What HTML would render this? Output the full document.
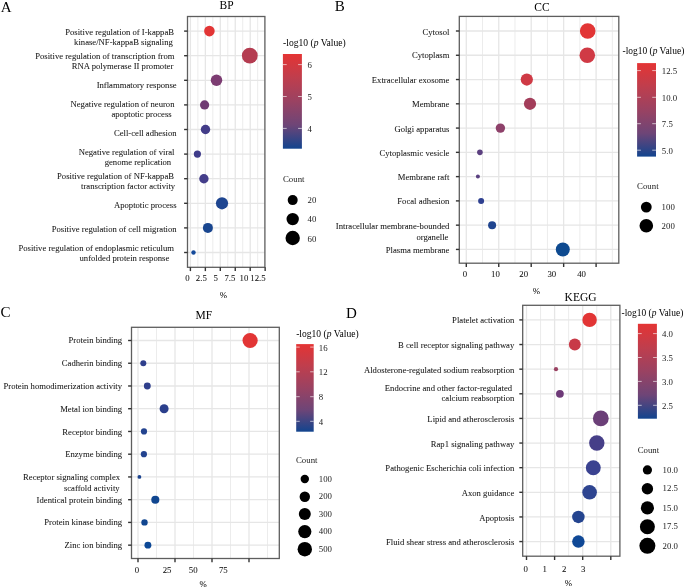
<!DOCTYPE html><html><head><meta charset="utf-8"><style>html,body{margin:0;padding:0;background:#fff;width:685px;height:588px;overflow:hidden}svg{display:block;filter:blur(0.3px)}</style></head><body><svg width="685" height="588" viewBox="0 0 685 588">
<defs><linearGradient id="cb" x1="0" y1="0" x2="0" y2="1"><stop offset="0" stop-color="#e43434"/><stop offset="0.25" stop-color="#bf3e4d"/><stop offset="0.5" stop-color="#9a4262"/><stop offset="0.75" stop-color="#6e4577"/><stop offset="1" stop-color="#12448e"/></linearGradient></defs>
<rect x="0" y="0" width="685" height="588" fill="#ffffff"/>
<line x1="197.88" y1="16.50" x2="197.88" y2="267.30" stroke="#ececec" stroke-width="1.0"/>
<line x1="212.83" y1="16.50" x2="212.83" y2="267.30" stroke="#ececec" stroke-width="1.0"/>
<line x1="227.78" y1="16.50" x2="227.78" y2="267.30" stroke="#ececec" stroke-width="1.0"/>
<line x1="242.73" y1="16.50" x2="242.73" y2="267.30" stroke="#ececec" stroke-width="1.0"/>
<line x1="257.68" y1="16.50" x2="257.68" y2="267.30" stroke="#ececec" stroke-width="1.0"/>
<line x1="190.40" y1="16.50" x2="190.40" y2="267.30" stroke="#e6e6e6" stroke-width="1.3"/>
<line x1="205.35" y1="16.50" x2="205.35" y2="267.30" stroke="#e6e6e6" stroke-width="1.3"/>
<line x1="220.30" y1="16.50" x2="220.30" y2="267.30" stroke="#e6e6e6" stroke-width="1.3"/>
<line x1="235.25" y1="16.50" x2="235.25" y2="267.30" stroke="#e6e6e6" stroke-width="1.3"/>
<line x1="250.20" y1="16.50" x2="250.20" y2="267.30" stroke="#e6e6e6" stroke-width="1.3"/>
<line x1="187.50" y1="31.10" x2="264.90" y2="31.10" stroke="#e6e6e6" stroke-width="1.3"/>
<line x1="187.50" y1="55.70" x2="264.90" y2="55.70" stroke="#e6e6e6" stroke-width="1.3"/>
<line x1="187.50" y1="80.30" x2="264.90" y2="80.30" stroke="#e6e6e6" stroke-width="1.3"/>
<line x1="187.50" y1="104.90" x2="264.90" y2="104.90" stroke="#e6e6e6" stroke-width="1.3"/>
<line x1="187.50" y1="129.50" x2="264.90" y2="129.50" stroke="#e6e6e6" stroke-width="1.3"/>
<line x1="187.50" y1="154.10" x2="264.90" y2="154.10" stroke="#e6e6e6" stroke-width="1.3"/>
<line x1="187.50" y1="178.70" x2="264.90" y2="178.70" stroke="#e6e6e6" stroke-width="1.3"/>
<line x1="187.50" y1="203.30" x2="264.90" y2="203.30" stroke="#e6e6e6" stroke-width="1.3"/>
<line x1="187.50" y1="227.90" x2="264.90" y2="227.90" stroke="#e6e6e6" stroke-width="1.3"/>
<line x1="187.50" y1="252.50" x2="264.90" y2="252.50" stroke="#e6e6e6" stroke-width="1.3"/>
<circle cx="209.40" cy="31.10" r="5.30" fill="#e23535"/>
<circle cx="249.80" cy="55.70" r="7.90" fill="#b43c50"/>
<circle cx="216.50" cy="80.30" r="5.75" fill="#7c3c72"/>
<circle cx="204.60" cy="104.90" r="4.60" fill="#703c74"/>
<circle cx="205.50" cy="129.50" r="4.70" fill="#433c88"/>
<circle cx="197.40" cy="154.10" r="3.60" fill="#3f3c8a"/>
<circle cx="203.90" cy="178.70" r="4.70" fill="#443e8a"/>
<circle cx="222.00" cy="203.30" r="6.10" fill="#1e4590"/>
<circle cx="207.90" cy="227.90" r="5.00" fill="#19468f"/>
<circle cx="193.50" cy="252.50" r="2.20" fill="#154a9a"/>
<rect x="187.50" y="16.50" width="77.40" height="250.80" fill="none" stroke="#5e5e5e" stroke-width="1.3"/>
<line x1="184.10" y1="31.10" x2="187.50" y2="31.10" stroke="#333333" stroke-width="1.4"/>
<line x1="184.10" y1="55.70" x2="187.50" y2="55.70" stroke="#333333" stroke-width="1.4"/>
<line x1="184.10" y1="80.30" x2="187.50" y2="80.30" stroke="#333333" stroke-width="1.4"/>
<line x1="184.10" y1="104.90" x2="187.50" y2="104.90" stroke="#333333" stroke-width="1.4"/>
<line x1="184.10" y1="129.50" x2="187.50" y2="129.50" stroke="#333333" stroke-width="1.4"/>
<line x1="184.10" y1="154.10" x2="187.50" y2="154.10" stroke="#333333" stroke-width="1.4"/>
<line x1="184.10" y1="178.70" x2="187.50" y2="178.70" stroke="#333333" stroke-width="1.4"/>
<line x1="184.10" y1="203.30" x2="187.50" y2="203.30" stroke="#333333" stroke-width="1.4"/>
<line x1="184.10" y1="227.90" x2="187.50" y2="227.90" stroke="#333333" stroke-width="1.4"/>
<line x1="184.10" y1="252.50" x2="187.50" y2="252.50" stroke="#333333" stroke-width="1.4"/>
<line x1="190.40" y1="267.30" x2="190.40" y2="271.10" stroke="#333333" stroke-width="1.4"/>
<line x1="205.35" y1="267.30" x2="205.35" y2="271.10" stroke="#333333" stroke-width="1.4"/>
<line x1="220.30" y1="267.30" x2="220.30" y2="271.10" stroke="#333333" stroke-width="1.4"/>
<line x1="235.25" y1="267.30" x2="235.25" y2="271.10" stroke="#333333" stroke-width="1.4"/>
<line x1="250.20" y1="267.30" x2="250.20" y2="271.10" stroke="#333333" stroke-width="1.4"/>
<line x1="265.15" y1="267.30" x2="265.15" y2="271.10" stroke="#333333" stroke-width="1.4"/>
<line x1="482.53" y1="16.40" x2="482.53" y2="263.20" stroke="#ececec" stroke-width="1.0"/>
<line x1="514.98" y1="16.40" x2="514.98" y2="263.20" stroke="#ececec" stroke-width="1.0"/>
<line x1="547.42" y1="16.40" x2="547.42" y2="263.20" stroke="#ececec" stroke-width="1.0"/>
<line x1="579.88" y1="16.40" x2="579.88" y2="263.20" stroke="#ececec" stroke-width="1.0"/>
<line x1="612.33" y1="16.40" x2="612.33" y2="263.20" stroke="#ececec" stroke-width="1.0"/>
<line x1="466.30" y1="16.40" x2="466.30" y2="263.20" stroke="#e6e6e6" stroke-width="1.3"/>
<line x1="498.75" y1="16.40" x2="498.75" y2="263.20" stroke="#e6e6e6" stroke-width="1.3"/>
<line x1="531.20" y1="16.40" x2="531.20" y2="263.20" stroke="#e6e6e6" stroke-width="1.3"/>
<line x1="563.65" y1="16.40" x2="563.65" y2="263.20" stroke="#e6e6e6" stroke-width="1.3"/>
<line x1="596.10" y1="16.40" x2="596.10" y2="263.20" stroke="#e6e6e6" stroke-width="1.3"/>
<line x1="459.30" y1="31.00" x2="618.80" y2="31.00" stroke="#e6e6e6" stroke-width="1.3"/>
<line x1="459.30" y1="55.27" x2="618.80" y2="55.27" stroke="#e6e6e6" stroke-width="1.3"/>
<line x1="459.30" y1="79.54" x2="618.80" y2="79.54" stroke="#e6e6e6" stroke-width="1.3"/>
<line x1="459.30" y1="103.81" x2="618.80" y2="103.81" stroke="#e6e6e6" stroke-width="1.3"/>
<line x1="459.30" y1="128.08" x2="618.80" y2="128.08" stroke="#e6e6e6" stroke-width="1.3"/>
<line x1="459.30" y1="152.35" x2="618.80" y2="152.35" stroke="#e6e6e6" stroke-width="1.3"/>
<line x1="459.30" y1="176.62" x2="618.80" y2="176.62" stroke="#e6e6e6" stroke-width="1.3"/>
<line x1="459.30" y1="200.89" x2="618.80" y2="200.89" stroke="#e6e6e6" stroke-width="1.3"/>
<line x1="459.30" y1="225.16" x2="618.80" y2="225.16" stroke="#e6e6e6" stroke-width="1.3"/>
<line x1="459.30" y1="249.43" x2="618.80" y2="249.43" stroke="#e6e6e6" stroke-width="1.3"/>
<circle cx="587.70" cy="31.00" r="7.80" fill="#e23535"/>
<circle cx="587.30" cy="55.27" r="7.80" fill="#d03a45"/>
<circle cx="526.80" cy="79.54" r="6.10" fill="#cf3a45"/>
<circle cx="530.00" cy="103.81" r="6.10" fill="#a33d5a"/>
<circle cx="500.40" cy="128.08" r="4.70" fill="#8e416a"/>
<circle cx="479.90" cy="152.35" r="2.80" fill="#5c4080"/>
<circle cx="477.90" cy="176.62" r="2.00" fill="#5a4080"/>
<circle cx="481.10" cy="200.89" r="3.00" fill="#2e4090"/>
<circle cx="492.10" cy="225.16" r="4.00" fill="#20458f"/>
<circle cx="562.80" cy="249.43" r="7.00" fill="#0e4a90"/>
<rect x="459.30" y="16.40" width="159.50" height="246.80" fill="none" stroke="#5e5e5e" stroke-width="1.3"/>
<line x1="455.90" y1="31.00" x2="459.30" y2="31.00" stroke="#333333" stroke-width="1.4"/>
<line x1="455.90" y1="55.27" x2="459.30" y2="55.27" stroke="#333333" stroke-width="1.4"/>
<line x1="455.90" y1="79.54" x2="459.30" y2="79.54" stroke="#333333" stroke-width="1.4"/>
<line x1="455.90" y1="103.81" x2="459.30" y2="103.81" stroke="#333333" stroke-width="1.4"/>
<line x1="455.90" y1="128.08" x2="459.30" y2="128.08" stroke="#333333" stroke-width="1.4"/>
<line x1="455.90" y1="152.35" x2="459.30" y2="152.35" stroke="#333333" stroke-width="1.4"/>
<line x1="455.90" y1="176.62" x2="459.30" y2="176.62" stroke="#333333" stroke-width="1.4"/>
<line x1="455.90" y1="200.89" x2="459.30" y2="200.89" stroke="#333333" stroke-width="1.4"/>
<line x1="455.90" y1="225.16" x2="459.30" y2="225.16" stroke="#333333" stroke-width="1.4"/>
<line x1="455.90" y1="249.43" x2="459.30" y2="249.43" stroke="#333333" stroke-width="1.4"/>
<line x1="466.30" y1="263.20" x2="466.30" y2="267.00" stroke="#333333" stroke-width="1.4"/>
<line x1="498.75" y1="263.20" x2="498.75" y2="267.00" stroke="#333333" stroke-width="1.4"/>
<line x1="531.20" y1="263.20" x2="531.20" y2="267.00" stroke="#333333" stroke-width="1.4"/>
<line x1="563.65" y1="263.20" x2="563.65" y2="267.00" stroke="#333333" stroke-width="1.4"/>
<line x1="596.10" y1="263.20" x2="596.10" y2="267.00" stroke="#333333" stroke-width="1.4"/>
<line x1="156.50" y1="327.30" x2="156.50" y2="558.50" stroke="#ececec" stroke-width="1.0"/>
<line x1="193.50" y1="327.30" x2="193.50" y2="558.50" stroke="#ececec" stroke-width="1.0"/>
<line x1="230.50" y1="327.30" x2="230.50" y2="558.50" stroke="#ececec" stroke-width="1.0"/>
<line x1="267.50" y1="327.30" x2="267.50" y2="558.50" stroke="#ececec" stroke-width="1.0"/>
<line x1="138.00" y1="327.30" x2="138.00" y2="558.50" stroke="#e6e6e6" stroke-width="1.3"/>
<line x1="175.00" y1="327.30" x2="175.00" y2="558.50" stroke="#e6e6e6" stroke-width="1.3"/>
<line x1="212.00" y1="327.30" x2="212.00" y2="558.50" stroke="#e6e6e6" stroke-width="1.3"/>
<line x1="249.00" y1="327.30" x2="249.00" y2="558.50" stroke="#e6e6e6" stroke-width="1.3"/>
<line x1="131.50" y1="340.50" x2="279.30" y2="340.50" stroke="#e6e6e6" stroke-width="1.3"/>
<line x1="131.50" y1="363.24" x2="279.30" y2="363.24" stroke="#e6e6e6" stroke-width="1.3"/>
<line x1="131.50" y1="385.98" x2="279.30" y2="385.98" stroke="#e6e6e6" stroke-width="1.3"/>
<line x1="131.50" y1="408.72" x2="279.30" y2="408.72" stroke="#e6e6e6" stroke-width="1.3"/>
<line x1="131.50" y1="431.46" x2="279.30" y2="431.46" stroke="#e6e6e6" stroke-width="1.3"/>
<line x1="131.50" y1="454.20" x2="279.30" y2="454.20" stroke="#e6e6e6" stroke-width="1.3"/>
<line x1="131.50" y1="476.94" x2="279.30" y2="476.94" stroke="#e6e6e6" stroke-width="1.3"/>
<line x1="131.50" y1="499.68" x2="279.30" y2="499.68" stroke="#e6e6e6" stroke-width="1.3"/>
<line x1="131.50" y1="522.42" x2="279.30" y2="522.42" stroke="#e6e6e6" stroke-width="1.3"/>
<line x1="131.50" y1="545.16" x2="279.30" y2="545.16" stroke="#e6e6e6" stroke-width="1.3"/>
<circle cx="250.10" cy="340.50" r="7.60" fill="#e23535"/>
<circle cx="143.30" cy="363.24" r="3.00" fill="#2f3f8c"/>
<circle cx="147.30" cy="385.98" r="3.45" fill="#2f3f8c"/>
<circle cx="164.10" cy="408.72" r="4.50" fill="#2b3f8c"/>
<circle cx="144.00" cy="431.46" r="3.10" fill="#23438f"/>
<circle cx="143.90" cy="454.20" r="3.10" fill="#23438f"/>
<circle cx="139.40" cy="476.94" r="1.90" fill="#1c448f"/>
<circle cx="155.30" cy="499.68" r="4.05" fill="#104690"/>
<circle cx="144.50" cy="522.42" r="3.20" fill="#114690"/>
<circle cx="147.90" cy="545.16" r="3.45" fill="#0d4896"/>
<rect x="131.50" y="327.30" width="147.80" height="231.20" fill="none" stroke="#5e5e5e" stroke-width="1.3"/>
<line x1="128.10" y1="340.50" x2="131.50" y2="340.50" stroke="#333333" stroke-width="1.4"/>
<line x1="128.10" y1="363.24" x2="131.50" y2="363.24" stroke="#333333" stroke-width="1.4"/>
<line x1="128.10" y1="385.98" x2="131.50" y2="385.98" stroke="#333333" stroke-width="1.4"/>
<line x1="128.10" y1="408.72" x2="131.50" y2="408.72" stroke="#333333" stroke-width="1.4"/>
<line x1="128.10" y1="431.46" x2="131.50" y2="431.46" stroke="#333333" stroke-width="1.4"/>
<line x1="128.10" y1="454.20" x2="131.50" y2="454.20" stroke="#333333" stroke-width="1.4"/>
<line x1="128.10" y1="476.94" x2="131.50" y2="476.94" stroke="#333333" stroke-width="1.4"/>
<line x1="128.10" y1="499.68" x2="131.50" y2="499.68" stroke="#333333" stroke-width="1.4"/>
<line x1="128.10" y1="522.42" x2="131.50" y2="522.42" stroke="#333333" stroke-width="1.4"/>
<line x1="128.10" y1="545.16" x2="131.50" y2="545.16" stroke="#333333" stroke-width="1.4"/>
<line x1="138.00" y1="558.50" x2="138.00" y2="562.30" stroke="#333333" stroke-width="1.4"/>
<line x1="175.00" y1="558.50" x2="175.00" y2="562.30" stroke="#333333" stroke-width="1.4"/>
<line x1="212.00" y1="558.50" x2="212.00" y2="562.30" stroke="#333333" stroke-width="1.4"/>
<line x1="249.00" y1="558.50" x2="249.00" y2="562.30" stroke="#333333" stroke-width="1.4"/>
<line x1="540.55" y1="305.30" x2="540.55" y2="556.20" stroke="#ececec" stroke-width="1.0"/>
<line x1="568.65" y1="305.30" x2="568.65" y2="556.20" stroke="#ececec" stroke-width="1.0"/>
<line x1="596.75" y1="305.30" x2="596.75" y2="556.20" stroke="#ececec" stroke-width="1.0"/>
<line x1="526.50" y1="305.30" x2="526.50" y2="556.20" stroke="#e6e6e6" stroke-width="1.3"/>
<line x1="554.60" y1="305.30" x2="554.60" y2="556.20" stroke="#e6e6e6" stroke-width="1.3"/>
<line x1="582.70" y1="305.30" x2="582.70" y2="556.20" stroke="#e6e6e6" stroke-width="1.3"/>
<line x1="610.80" y1="305.30" x2="610.80" y2="556.20" stroke="#e6e6e6" stroke-width="1.3"/>
<line x1="522.70" y1="319.90" x2="619.90" y2="319.90" stroke="#e6e6e6" stroke-width="1.3"/>
<line x1="522.70" y1="344.53" x2="619.90" y2="344.53" stroke="#e6e6e6" stroke-width="1.3"/>
<line x1="522.70" y1="369.16" x2="619.90" y2="369.16" stroke="#e6e6e6" stroke-width="1.3"/>
<line x1="522.70" y1="393.79" x2="619.90" y2="393.79" stroke="#e6e6e6" stroke-width="1.3"/>
<line x1="522.70" y1="418.42" x2="619.90" y2="418.42" stroke="#e6e6e6" stroke-width="1.3"/>
<line x1="522.70" y1="443.05" x2="619.90" y2="443.05" stroke="#e6e6e6" stroke-width="1.3"/>
<line x1="522.70" y1="467.68" x2="619.90" y2="467.68" stroke="#e6e6e6" stroke-width="1.3"/>
<line x1="522.70" y1="492.31" x2="619.90" y2="492.31" stroke="#e6e6e6" stroke-width="1.3"/>
<line x1="522.70" y1="516.94" x2="619.90" y2="516.94" stroke="#e6e6e6" stroke-width="1.3"/>
<line x1="522.70" y1="541.57" x2="619.90" y2="541.57" stroke="#e6e6e6" stroke-width="1.3"/>
<circle cx="589.60" cy="319.90" r="7.20" fill="#e23535"/>
<circle cx="574.80" cy="344.53" r="5.95" fill="#c83a48"/>
<circle cx="556.00" cy="369.16" r="2.10" fill="#9a4262"/>
<circle cx="559.90" cy="393.79" r="3.90" fill="#6e3a78"/>
<circle cx="600.80" cy="418.42" r="7.90" fill="#6b3f78"/>
<circle cx="596.80" cy="443.05" r="7.70" fill="#463f88"/>
<circle cx="593.30" cy="467.68" r="7.45" fill="#3a4290"/>
<circle cx="589.60" cy="492.31" r="7.30" fill="#2e4490"/>
<circle cx="578.40" cy="516.94" r="6.25" fill="#24448f"/>
<circle cx="578.40" cy="541.57" r="6.25" fill="#0f4896"/>
<rect x="522.70" y="305.30" width="97.20" height="250.90" fill="none" stroke="#5e5e5e" stroke-width="1.3"/>
<line x1="519.30" y1="319.90" x2="522.70" y2="319.90" stroke="#333333" stroke-width="1.4"/>
<line x1="519.30" y1="344.53" x2="522.70" y2="344.53" stroke="#333333" stroke-width="1.4"/>
<line x1="519.30" y1="369.16" x2="522.70" y2="369.16" stroke="#333333" stroke-width="1.4"/>
<line x1="519.30" y1="393.79" x2="522.70" y2="393.79" stroke="#333333" stroke-width="1.4"/>
<line x1="519.30" y1="418.42" x2="522.70" y2="418.42" stroke="#333333" stroke-width="1.4"/>
<line x1="519.30" y1="443.05" x2="522.70" y2="443.05" stroke="#333333" stroke-width="1.4"/>
<line x1="519.30" y1="467.68" x2="522.70" y2="467.68" stroke="#333333" stroke-width="1.4"/>
<line x1="519.30" y1="492.31" x2="522.70" y2="492.31" stroke="#333333" stroke-width="1.4"/>
<line x1="519.30" y1="516.94" x2="522.70" y2="516.94" stroke="#333333" stroke-width="1.4"/>
<line x1="519.30" y1="541.57" x2="522.70" y2="541.57" stroke="#333333" stroke-width="1.4"/>
<line x1="526.50" y1="556.20" x2="526.50" y2="560.00" stroke="#333333" stroke-width="1.4"/>
<line x1="554.60" y1="556.20" x2="554.60" y2="560.00" stroke="#333333" stroke-width="1.4"/>
<line x1="582.70" y1="556.20" x2="582.70" y2="560.00" stroke="#333333" stroke-width="1.4"/>
<line x1="610.80" y1="556.20" x2="610.80" y2="560.00" stroke="#333333" stroke-width="1.4"/>
<rect x="282.90" y="54.00" width="19.00" height="94.70" fill="url(#cb)"/>
<g stroke="#fff" stroke-opacity="0.7" stroke-width="0.9"><line x1="282.90" y1="64.60" x2="286.70" y2="64.60"/><line x1="298.10" y1="64.60" x2="301.90" y2="64.60"/></g>
<g stroke="#fff" stroke-opacity="0.7" stroke-width="0.9"><line x1="282.90" y1="96.50" x2="286.70" y2="96.50"/><line x1="298.10" y1="96.50" x2="301.90" y2="96.50"/></g>
<g stroke="#fff" stroke-opacity="0.7" stroke-width="0.9"><line x1="282.90" y1="128.40" x2="286.70" y2="128.40"/><line x1="298.10" y1="128.40" x2="301.90" y2="128.40"/></g>
<circle cx="292.70" cy="200.10" r="5.00" fill="#000"/>
<circle cx="292.70" cy="219.10" r="6.20" fill="#000"/>
<circle cx="292.70" cy="238.00" r="7.20" fill="#000"/>
<rect x="637.10" y="63.10" width="18.90" height="93.50" fill="url(#cb)"/>
<g stroke="#fff" stroke-opacity="0.7" stroke-width="0.9"><line x1="637.10" y1="70.60" x2="640.88" y2="70.60"/><line x1="652.22" y1="70.60" x2="656.00" y2="70.60"/></g>
<g stroke="#fff" stroke-opacity="0.7" stroke-width="0.9"><line x1="637.10" y1="97.30" x2="640.88" y2="97.30"/><line x1="652.22" y1="97.30" x2="656.00" y2="97.30"/></g>
<g stroke="#fff" stroke-opacity="0.7" stroke-width="0.9"><line x1="637.10" y1="123.70" x2="640.88" y2="123.70"/><line x1="652.22" y1="123.70" x2="656.00" y2="123.70"/></g>
<g stroke="#fff" stroke-opacity="0.7" stroke-width="0.9"><line x1="637.10" y1="150.20" x2="640.88" y2="150.20"/><line x1="652.22" y1="150.20" x2="656.00" y2="150.20"/></g>
<circle cx="646.30" cy="207.10" r="5.40" fill="#000"/>
<circle cx="646.30" cy="225.80" r="6.80" fill="#000"/>
<rect x="296.20" y="344.10" width="17.50" height="87.60" fill="url(#cb)"/>
<g stroke="#fff" stroke-opacity="0.7" stroke-width="0.9"><line x1="296.20" y1="347.10" x2="299.70" y2="347.10"/><line x1="310.20" y1="347.10" x2="313.70" y2="347.10"/></g>
<g stroke="#fff" stroke-opacity="0.7" stroke-width="0.9"><line x1="296.20" y1="371.80" x2="299.70" y2="371.80"/><line x1="310.20" y1="371.80" x2="313.70" y2="371.80"/></g>
<g stroke="#fff" stroke-opacity="0.7" stroke-width="0.9"><line x1="296.20" y1="396.70" x2="299.70" y2="396.70"/><line x1="310.20" y1="396.70" x2="313.70" y2="396.70"/></g>
<g stroke="#fff" stroke-opacity="0.7" stroke-width="0.9"><line x1="296.20" y1="421.30" x2="299.70" y2="421.30"/><line x1="310.20" y1="421.30" x2="313.70" y2="421.30"/></g>
<circle cx="304.80" cy="479.00" r="4.20" fill="#000"/>
<circle cx="304.80" cy="496.70" r="5.20" fill="#000"/>
<circle cx="304.80" cy="514.10" r="6.00" fill="#000"/>
<circle cx="304.80" cy="531.60" r="6.60" fill="#000"/>
<circle cx="304.80" cy="549.20" r="7.20" fill="#000"/>
<rect x="637.90" y="323.80" width="19.00" height="94.90" fill="url(#cb)"/>
<g stroke="#fff" stroke-opacity="0.7" stroke-width="0.9"><line x1="637.90" y1="333.60" x2="641.70" y2="333.60"/><line x1="653.10" y1="333.60" x2="656.90" y2="333.60"/></g>
<g stroke="#fff" stroke-opacity="0.7" stroke-width="0.9"><line x1="637.90" y1="357.50" x2="641.70" y2="357.50"/><line x1="653.10" y1="357.50" x2="656.90" y2="357.50"/></g>
<g stroke="#fff" stroke-opacity="0.7" stroke-width="0.9"><line x1="637.90" y1="381.40" x2="641.70" y2="381.40"/><line x1="653.10" y1="381.40" x2="656.90" y2="381.40"/></g>
<g stroke="#fff" stroke-opacity="0.7" stroke-width="0.9"><line x1="637.90" y1="405.30" x2="641.70" y2="405.30"/><line x1="653.10" y1="405.30" x2="656.90" y2="405.30"/></g>
<circle cx="647.40" cy="469.90" r="4.60" fill="#000"/>
<circle cx="647.40" cy="488.70" r="5.70" fill="#000"/>
<circle cx="647.40" cy="507.90" r="6.60" fill="#000"/>
<circle cx="647.40" cy="526.70" r="7.50" fill="#000"/>
<circle cx="647.40" cy="545.80" r="8.00" fill="#000"/>
<g font-family="Liberation Serif, serif" style="filter:grayscale(1)">
<text transform="translate(187.50 281.00) scale(1 1.05)" font-size="8.8" text-anchor="middle" fill="#141414" stroke="#141414" stroke-width="0.06">0</text>
<text transform="translate(201.30 281.00) scale(1 1.05)" font-size="8.8" text-anchor="middle" fill="#141414" stroke="#141414" stroke-width="0.06">2.5</text>
<text transform="translate(215.70 281.00) scale(1 1.05)" font-size="8.8" text-anchor="middle" fill="#141414" stroke="#141414" stroke-width="0.06">5</text>
<text transform="translate(229.90 281.00) scale(1 1.05)" font-size="8.8" text-anchor="middle" fill="#141414" stroke="#141414" stroke-width="0.06">7.5</text>
<text transform="translate(244.00 281.00) scale(1 1.05)" font-size="8.8" text-anchor="middle" fill="#141414" stroke="#141414" stroke-width="0.06">10</text>
<text transform="translate(258.00 281.00) scale(1 1.05)" font-size="8.8" text-anchor="middle" fill="#141414" stroke="#141414" stroke-width="0.06">12.5</text>
<text transform="translate(223.40 297.60) scale(1 1.05)" font-size="8.8" text-anchor="middle" fill="#141414" stroke="#141414" stroke-width="0.06">%</text>
<text x="226.60" y="9.10" font-size="11.5" text-anchor="middle" fill="#000">BP</text>
<text transform="translate(174.00 34.60) scale(1 1.045)" font-size="8.66" text-anchor="end" fill="#141414" stroke="#141414" stroke-width="0.05">Positive regulation of I-kappaB</text>
<text transform="translate(172.80 45.10) scale(1 1.045)" font-size="8.66" text-anchor="end" fill="#141414" stroke="#141414" stroke-width="0.05">kinase/NF-kappaB signaling</text>
<text transform="translate(174.50 58.90) scale(1 1.045)" font-size="8.66" text-anchor="end" fill="#141414" stroke="#141414" stroke-width="0.05">Positive regulation of transcription from</text>
<text transform="translate(173.30 68.70) scale(1 1.045)" font-size="8.66" text-anchor="end" fill="#141414" stroke="#141414" stroke-width="0.05">RNA polymerase II promoter</text>
<text transform="translate(176.60 87.70) scale(1 1.045)" font-size="8.66" text-anchor="end" fill="#141414" stroke="#141414" stroke-width="0.05">Inflammatory response</text>
<text transform="translate(174.50 106.80) scale(1 1.045)" font-size="8.66" text-anchor="end" fill="#141414" stroke="#141414" stroke-width="0.05">Negative regulation of neuron</text>
<text transform="translate(171.70 117.10) scale(1 1.045)" font-size="8.66" text-anchor="end" fill="#141414" stroke="#141414" stroke-width="0.05">apoptotic process</text>
<text transform="translate(176.60 135.80) scale(1 1.045)" font-size="8.66" text-anchor="end" fill="#141414" stroke="#141414" stroke-width="0.05">Cell-cell adhesion</text>
<text transform="translate(174.50 154.50) scale(1 1.045)" font-size="8.66" text-anchor="end" fill="#141414" stroke="#141414" stroke-width="0.05">Negative regulation of viral</text>
<text transform="translate(171.20 165.00) scale(1 1.045)" font-size="8.66" text-anchor="end" fill="#141414" stroke="#141414" stroke-width="0.05">genome replication</text>
<text transform="translate(174.00 178.50) scale(1 1.045)" font-size="8.66" text-anchor="end" fill="#141414" stroke="#141414" stroke-width="0.05">Positive regulation of NF-kappaB</text>
<text transform="translate(175.20 188.60) scale(1 1.045)" font-size="8.66" text-anchor="end" fill="#141414" stroke="#141414" stroke-width="0.05">transcription factor activity</text>
<text transform="translate(176.60 207.50) scale(1 1.045)" font-size="8.66" text-anchor="end" fill="#141414" stroke="#141414" stroke-width="0.05">Apoptotic process</text>
<text transform="translate(176.60 231.60) scale(1 1.045)" font-size="8.66" text-anchor="end" fill="#141414" stroke="#141414" stroke-width="0.05">Positive regulation of cell migration</text>
<text transform="translate(174.00 250.80) scale(1 1.045)" font-size="8.66" text-anchor="end" fill="#141414" stroke="#141414" stroke-width="0.05">Positive regulation of endoplasmic reticulum</text>
<text transform="translate(169.30 260.80) scale(1 1.045)" font-size="8.66" text-anchor="end" fill="#141414" stroke="#141414" stroke-width="0.05">unfolded protein response</text>
<text transform="translate(464.90 277.20) scale(1 1.05)" font-size="8.8" text-anchor="middle" fill="#141414" stroke="#141414" stroke-width="0.06">0</text>
<text transform="translate(495.40 277.20) scale(1 1.05)" font-size="8.8" text-anchor="middle" fill="#141414" stroke="#141414" stroke-width="0.06">10</text>
<text transform="translate(523.70 277.20) scale(1 1.05)" font-size="8.8" text-anchor="middle" fill="#141414" stroke="#141414" stroke-width="0.06">20</text>
<text transform="translate(551.80 277.20) scale(1 1.05)" font-size="8.8" text-anchor="middle" fill="#141414" stroke="#141414" stroke-width="0.06">30</text>
<text transform="translate(581.60 277.20) scale(1 1.05)" font-size="8.8" text-anchor="middle" fill="#141414" stroke="#141414" stroke-width="0.06">40</text>
<text transform="translate(536.50 294.30) scale(1 1.05)" font-size="8.8" text-anchor="middle" fill="#141414" stroke="#141414" stroke-width="0.06">%</text>
<text x="542.00" y="10.50" font-size="11.5" text-anchor="middle" fill="#000">CC</text>
<text transform="translate(449.40 34.50) scale(1 1.045)" font-size="8.66" text-anchor="end" fill="#141414" stroke="#141414" stroke-width="0.05">Cytosol</text>
<text transform="translate(449.40 58.40) scale(1 1.045)" font-size="8.66" text-anchor="end" fill="#141414" stroke="#141414" stroke-width="0.05">Cytoplasm</text>
<text transform="translate(449.40 82.90) scale(1 1.045)" font-size="8.66" text-anchor="end" fill="#141414" stroke="#141414" stroke-width="0.05">Extracellular exosome</text>
<text transform="translate(449.40 107.00) scale(1 1.045)" font-size="8.66" text-anchor="end" fill="#141414" stroke="#141414" stroke-width="0.05">Membrane</text>
<text transform="translate(449.40 131.60) scale(1 1.045)" font-size="8.66" text-anchor="end" fill="#141414" stroke="#141414" stroke-width="0.05">Golgi apparatus</text>
<text transform="translate(449.40 155.90) scale(1 1.045)" font-size="8.66" text-anchor="end" fill="#141414" stroke="#141414" stroke-width="0.05">Cytoplasmic vesicle</text>
<text transform="translate(449.40 179.80) scale(1 1.045)" font-size="8.66" text-anchor="end" fill="#141414" stroke="#141414" stroke-width="0.05">Membrane raft</text>
<text transform="translate(449.40 204.40) scale(1 1.045)" font-size="8.66" text-anchor="end" fill="#141414" stroke="#141414" stroke-width="0.05">Focal adhesion</text>
<text transform="translate(449.40 229.00) scale(1 1.045)" font-size="8.66" text-anchor="end" fill="#141414" stroke="#141414" stroke-width="0.05">Intracellular membrane-bounded</text>
<text transform="translate(448.40 239.60) scale(1 1.045)" font-size="8.66" text-anchor="end" fill="#141414" stroke="#141414" stroke-width="0.05">organelle</text>
<text transform="translate(449.40 253.10) scale(1 1.045)" font-size="8.66" text-anchor="end" fill="#141414" stroke="#141414" stroke-width="0.05">Plasma membrane</text>
<text transform="translate(137.00 573.30) scale(1 1.05)" font-size="8.8" text-anchor="middle" fill="#141414" stroke="#141414" stroke-width="0.06">0</text>
<text transform="translate(167.10 573.30) scale(1 1.05)" font-size="8.8" text-anchor="middle" fill="#141414" stroke="#141414" stroke-width="0.06">25</text>
<text transform="translate(193.20 573.30) scale(1 1.05)" font-size="8.8" text-anchor="middle" fill="#141414" stroke="#141414" stroke-width="0.06">50</text>
<text transform="translate(223.30 573.30) scale(1 1.05)" font-size="8.8" text-anchor="middle" fill="#141414" stroke="#141414" stroke-width="0.06">75</text>
<text transform="translate(203.20 587.00) scale(1 1.05)" font-size="8.8" text-anchor="middle" fill="#141414" stroke="#141414" stroke-width="0.06">%</text>
<text x="203.90" y="318.80" font-size="11.5" text-anchor="middle" fill="#000">MF</text>
<text transform="translate(122.10 343.40) scale(1 1.045)" font-size="8.66" text-anchor="end" fill="#141414" stroke="#141414" stroke-width="0.05">Protein binding</text>
<text transform="translate(122.10 366.30) scale(1 1.045)" font-size="8.66" text-anchor="end" fill="#141414" stroke="#141414" stroke-width="0.05">Cadherin binding</text>
<text transform="translate(122.10 389.00) scale(1 1.045)" font-size="8.66" text-anchor="end" fill="#141414" stroke="#141414" stroke-width="0.05">Protein homodimerization activity</text>
<text transform="translate(122.10 411.70) scale(1 1.045)" font-size="8.66" text-anchor="end" fill="#141414" stroke="#141414" stroke-width="0.05">Metal ion binding</text>
<text transform="translate(122.10 434.50) scale(1 1.045)" font-size="8.66" text-anchor="end" fill="#141414" stroke="#141414" stroke-width="0.05">Receptor binding</text>
<text transform="translate(122.10 457.40) scale(1 1.045)" font-size="8.66" text-anchor="end" fill="#141414" stroke="#141414" stroke-width="0.05">Enzyme binding</text>
<text transform="translate(120.10 480.10) scale(1 1.045)" font-size="8.66" text-anchor="end" fill="#141414" stroke="#141414" stroke-width="0.05">Receptor signaling complex</text>
<text transform="translate(119.70 490.50) scale(1 1.045)" font-size="8.66" text-anchor="end" fill="#141414" stroke="#141414" stroke-width="0.05">scaffold activity</text>
<text transform="translate(122.10 503.00) scale(1 1.045)" font-size="8.66" text-anchor="end" fill="#141414" stroke="#141414" stroke-width="0.05">Identical protein binding</text>
<text transform="translate(122.10 525.40) scale(1 1.045)" font-size="8.66" text-anchor="end" fill="#141414" stroke="#141414" stroke-width="0.05">Protein kinase binding</text>
<text transform="translate(122.10 548.10) scale(1 1.045)" font-size="8.66" text-anchor="end" fill="#141414" stroke="#141414" stroke-width="0.05">Zinc ion binding</text>
<text transform="translate(525.70 571.90) scale(1 1.05)" font-size="8.8" text-anchor="middle" fill="#141414" stroke="#141414" stroke-width="0.06">0</text>
<text transform="translate(544.60 571.90) scale(1 1.05)" font-size="8.8" text-anchor="middle" fill="#141414" stroke="#141414" stroke-width="0.06">1</text>
<text transform="translate(564.30 571.90) scale(1 1.05)" font-size="8.8" text-anchor="middle" fill="#141414" stroke="#141414" stroke-width="0.06">2</text>
<text transform="translate(583.30 571.90) scale(1 1.05)" font-size="8.8" text-anchor="middle" fill="#141414" stroke="#141414" stroke-width="0.06">3</text>
<text transform="translate(568.30 586.30) scale(1 1.05)" font-size="8.8" text-anchor="middle" fill="#141414" stroke="#141414" stroke-width="0.06">%</text>
<text x="580.60" y="300.70" font-size="11.5" text-anchor="middle" fill="#000">KEGG</text>
<text transform="translate(514.30 323.20) scale(1 1.045)" font-size="8.66" text-anchor="end" fill="#141414" stroke="#141414" stroke-width="0.05">Platelet activation</text>
<text transform="translate(514.30 348.10) scale(1 1.045)" font-size="8.66" text-anchor="end" fill="#141414" stroke="#141414" stroke-width="0.05">B cell receptor signaling pathway</text>
<text transform="translate(514.30 372.60) scale(1 1.045)" font-size="8.66" text-anchor="end" fill="#141414" stroke="#141414" stroke-width="0.05">Aldosterone-regulated sodium reabsorption</text>
<text transform="translate(512.10 390.80) scale(1 1.045)" font-size="8.66" text-anchor="end" fill="#141414" stroke="#141414" stroke-width="0.05">Endocrine and other factor-regulated</text>
<text transform="translate(514.30 401.30) scale(1 1.045)" font-size="8.66" text-anchor="end" fill="#141414" stroke="#141414" stroke-width="0.05">calcium reabsorption</text>
<text transform="translate(514.30 421.80) scale(1 1.045)" font-size="8.66" text-anchor="end" fill="#141414" stroke="#141414" stroke-width="0.05">Lipid and atherosclerosis</text>
<text transform="translate(514.30 446.50) scale(1 1.045)" font-size="8.66" text-anchor="end" fill="#141414" stroke="#141414" stroke-width="0.05">Rap1 signaling pathway</text>
<text transform="translate(514.30 471.00) scale(1 1.045)" font-size="8.66" text-anchor="end" fill="#141414" stroke="#141414" stroke-width="0.05">Pathogenic Escherichia coli infection</text>
<text transform="translate(514.30 495.60) scale(1 1.045)" font-size="8.66" text-anchor="end" fill="#141414" stroke="#141414" stroke-width="0.05">Axon guidance</text>
<text transform="translate(514.30 520.50) scale(1 1.045)" font-size="8.66" text-anchor="end" fill="#141414" stroke="#141414" stroke-width="0.05">Apoptosis</text>
<text transform="translate(514.30 544.70) scale(1 1.045)" font-size="8.66" text-anchor="end" fill="#141414" stroke="#141414" stroke-width="0.05">Fluid shear stress and atherosclerosis</text>
<text x="283.10" y="46.20" font-size="9.3" fill="#000" textLength="62.7" lengthAdjust="spacingAndGlyphs">-log10 (<tspan font-style="italic">p</tspan> Value)</text>
<text transform="translate(307.60 68.10) scale(1 1.05)" font-size="8.8" text-anchor="start" fill="#1a1a1a">6</text>
<text transform="translate(307.60 100.00) scale(1 1.05)" font-size="8.8" text-anchor="start" fill="#1a1a1a">5</text>
<text transform="translate(307.60 131.90) scale(1 1.05)" font-size="8.8" text-anchor="start" fill="#1a1a1a">4</text>
<text transform="translate(283.00 182.40) scale(1 1.05)" font-size="8.8" text-anchor="start" fill="#1a1a1a">Count</text>
<text transform="translate(307.60 202.90) scale(1 1.05)" font-size="8.8" text-anchor="start" fill="#1a1a1a">20</text>
<text transform="translate(307.60 222.40) scale(1 1.05)" font-size="8.8" text-anchor="start" fill="#1a1a1a">40</text>
<text transform="translate(307.60 241.70) scale(1 1.05)" font-size="8.8" text-anchor="start" fill="#1a1a1a">60</text>
<text x="622.50" y="54.30" font-size="9.3" fill="#000" textLength="61.8" lengthAdjust="spacingAndGlyphs">-log10 (<tspan font-style="italic">p</tspan> Value)</text>
<text transform="translate(661.80 74.10) scale(1 1.05)" font-size="8.8" text-anchor="start" fill="#1a1a1a">12.5</text>
<text transform="translate(661.80 100.80) scale(1 1.05)" font-size="8.8" text-anchor="start" fill="#1a1a1a">10.0</text>
<text transform="translate(661.80 127.20) scale(1 1.05)" font-size="8.8" text-anchor="start" fill="#1a1a1a">7.5</text>
<text transform="translate(661.80 153.70) scale(1 1.05)" font-size="8.8" text-anchor="start" fill="#1a1a1a">5.0</text>
<text transform="translate(637.10 189.10) scale(1 1.05)" font-size="8.8" text-anchor="start" fill="#1a1a1a">Count</text>
<text transform="translate(661.60 209.80) scale(1 1.05)" font-size="8.8" text-anchor="start" fill="#1a1a1a">100</text>
<text transform="translate(661.60 228.50) scale(1 1.05)" font-size="8.8" text-anchor="start" fill="#1a1a1a">200</text>
<text x="296.20" y="336.80" font-size="9.3" fill="#000" textLength="62.5" lengthAdjust="spacingAndGlyphs">-log10 (<tspan font-style="italic">p</tspan> Value)</text>
<text transform="translate(318.80 350.60) scale(1 1.05)" font-size="8.8" text-anchor="start" fill="#1a1a1a">16</text>
<text transform="translate(318.80 375.30) scale(1 1.05)" font-size="8.8" text-anchor="start" fill="#1a1a1a">12</text>
<text transform="translate(318.80 400.20) scale(1 1.05)" font-size="8.8" text-anchor="start" fill="#1a1a1a">8</text>
<text transform="translate(318.80 424.80) scale(1 1.05)" font-size="8.8" text-anchor="start" fill="#1a1a1a">4</text>
<text transform="translate(296.00 462.70) scale(1 1.05)" font-size="8.8" text-anchor="start" fill="#1a1a1a">Count</text>
<text transform="translate(318.80 481.70) scale(1 1.05)" font-size="8.8" text-anchor="start" fill="#1a1a1a">100</text>
<text transform="translate(318.80 499.40) scale(1 1.05)" font-size="8.8" text-anchor="start" fill="#1a1a1a">200</text>
<text transform="translate(318.80 516.80) scale(1 1.05)" font-size="8.8" text-anchor="start" fill="#1a1a1a">300</text>
<text transform="translate(318.80 534.30) scale(1 1.05)" font-size="8.8" text-anchor="start" fill="#1a1a1a">400</text>
<text transform="translate(318.80 551.90) scale(1 1.05)" font-size="8.8" text-anchor="start" fill="#1a1a1a">500</text>
<text x="621.60" y="316.10" font-size="9.3" fill="#000" textLength="61.7" lengthAdjust="spacingAndGlyphs">-log10 (<tspan font-style="italic">p</tspan> Value)</text>
<text transform="translate(662.00 337.10) scale(1 1.05)" font-size="8.8" text-anchor="start" fill="#1a1a1a">4.0</text>
<text transform="translate(662.00 361.00) scale(1 1.05)" font-size="8.8" text-anchor="start" fill="#1a1a1a">3.5</text>
<text transform="translate(662.00 384.90) scale(1 1.05)" font-size="8.8" text-anchor="start" fill="#1a1a1a">3.0</text>
<text transform="translate(662.00 408.80) scale(1 1.05)" font-size="8.8" text-anchor="start" fill="#1a1a1a">2.5</text>
<text transform="translate(637.70 452.50) scale(1 1.05)" font-size="8.8" text-anchor="start" fill="#1a1a1a">Count</text>
<text transform="translate(662.60 472.60) scale(1 1.05)" font-size="8.8" text-anchor="start" fill="#1a1a1a">10.0</text>
<text transform="translate(662.60 491.40) scale(1 1.05)" font-size="8.8" text-anchor="start" fill="#1a1a1a">12.5</text>
<text transform="translate(662.60 510.60) scale(1 1.05)" font-size="8.8" text-anchor="start" fill="#1a1a1a">15.0</text>
<text transform="translate(662.60 529.40) scale(1 1.05)" font-size="8.8" text-anchor="start" fill="#1a1a1a">17.5</text>
<text transform="translate(662.60 548.50) scale(1 1.05)" font-size="8.8" text-anchor="start" fill="#1a1a1a">20.0</text>
<text x="0.70" y="11.70" font-size="15.0" text-anchor="start" fill="#000">A</text>
<text x="334.80" y="11.00" font-size="15.0" text-anchor="start" fill="#000">B</text>
<text x="0.40" y="317.30" font-size="15.0" text-anchor="start" fill="#000">C</text>
<text x="346.10" y="317.80" font-size="15.0" text-anchor="start" fill="#000">D</text>
</g></svg></body></html>
